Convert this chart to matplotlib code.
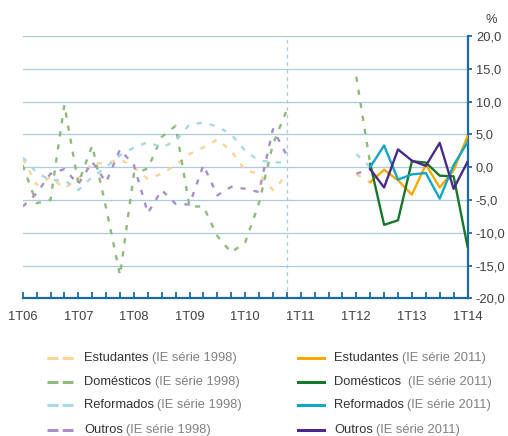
import matplotlib
matplotlib.use("Agg")
import matplotlib.pyplot as plt
import numpy as np
from matplotlib.lines import Line2D

plt.rcParams['font.family'] = ['Liberation Sans', 'DejaVu Sans']

nan = np.nan

# quarters 1T06 .. 1T14
quarters = [f"{q}T{y:02d}" for y in range(6, 14) for q in range(1, 5)] + ["1T14"]

# IE serie 1998 (ends 4T10, two more points in 2012)
est_98 = [1.3, -2.7, -1.5, -3.2, -1.8, 0.6, 0.6, 1.2, 0.0, -1.8, -1.0, 0.3, 2.0, 3.0, 4.2, 2.5,
          -0.5, -1.0, -3.5, -1.2, nan, nan, nan, nan, -1.1, -2.3]
dom_98 = [0.3, -5.5, -5.0, 9.5, -2.5, 3.3, -6.2, -16.5, -1.0, -0.2, 4.6, 6.3, -6.0, -6.0, -10.5, -13.0,
          -11.5, -5.5, 3.5, 8.7, nan, nan, nan, nan, 13.8, 0.5]
ref_98 = [1.5, -0.8, -2.0, -2.0, -3.5, -1.5, 0.0, 1.8, 3.0, 3.8, 3.0, 4.0, 6.5, 6.8, 6.2, 5.0,
          2.5, 1.0, 0.8, 0.6, nan, nan, nan, nan, 2.0, 0.0]
out_98 = [-6.0, -4.0, -1.0, -0.3, -2.6, 0.8, -2.3, 2.7, 0.3, -7.0, -3.5, -5.6, -5.7, 0.3, -4.3, -3.0,
          -3.3, -3.8, 5.8, 1.8, nan, nan, nan, nan, -1.0, -0.3]

# IE serie 2011 (2T12 .. 1T14)
est_11 = [-2.3, -0.4, -2.0, -4.2, 0.4, -3.1, -0.5, 4.7]
dom_11 = [0.5, -8.8, -8.1, 0.9, 0.7, -1.3, -1.4, -12.1]
ref_11 = [0.0, 3.3, -1.9, -1.1, -0.9, -4.8, 0.3, 3.8]
out_11 = [-0.3, -3.1, 2.7, 1.0, 0.2, 3.7, -3.3, 0.8]

names = ["Estudantes", "Domésticos", "Reformados", "Outros"]
names_11 = ["Estudantes", "Domésticos ", "Reformados", "Outros"]
cols_98 = ["#fdd495", "#8fba7e", "#a6d9e6", "#a98fca"]
cols_11 = ["#f6aa00", "#18762a", "#10a6c6", "#4a2a88"]

yticks = [20, 15, 10, 5, 0, -5, -10, -15, -20]
ytick_labels = ["20,0", "15,0", "10,0", "5,0", "0,0", "-5,0", "-10,0", "-15,0", "-20,0"]

axis_col = "#1b6aa5"
grid_col = "#a9cce3"
txt_col = "#404040"
fs = 9.3

fig = plt.figure(figsize=(5.08, 4.36), dpi=100)
ax = fig.add_axes([22.7 / 508, 1 - 298.3 / 436, (467.5 - 22.7) / 508, (298.3 - 36) / 436])

for v in yticks:
    ax.axhline(v, color=grid_col, lw=0.9, zorder=0)
ax.axvline(19, color=grid_col, lw=0.9, ls=(0, (3, 3)), zorder=0)

x98 = np.arange(len(est_98))
x11 = np.arange(25, 25 + len(est_11))
for s, c in zip([est_98, dom_98, ref_98, out_98], cols_98):
    ax.plot(x98, s, color=c, lw=1.7, dashes=(2.2, 3.4), zorder=2)
for s, c in zip([est_11, dom_11, ref_11, out_11], cols_11):
    ax.plot(x11, s, color=c, lw=1.7, zorder=3)

ax.set_xlim(0, 32)
ax.set_ylim(-20, 20)
ax.set_xticks(range(len(quarters)))
ax.set_xticklabels([q if i % 4 == 0 else "" for i, q in enumerate(quarters)])
ax.yaxis.tick_right()
ax.set_yticks(yticks)
ax.set_yticklabels(ytick_labels)

for sp in ["left", "top"]:
    ax.spines[sp].set_visible(False)
for sp in ["bottom", "right"]:
    ax.spines[sp].set_color(axis_col)
    ax.spines[sp].set_linewidth(1.6)
ax.tick_params(axis="x", direction="in", length=4, width=1.3, color=axis_col,
               labelsize=fs, labelcolor=txt_col, pad=9)
ax.tick_params(axis="y", direction="out", length=3, width=1.3, color=axis_col,
               labelsize=fs, labelcolor=txt_col, pad=3)
ax.set_facecolor("none")

fig.text(491.7 / 508, 1 - 20 / 436, "%", ha="center", va="center", fontsize=fs, color=txt_col)

# legend, drawn by hand so the series suffix can be lighter grey
rows_y = [358, 381.5, 405, 429.5]
for k in range(4):
    fy = 1 - rows_y[k] / 436
    fig.add_artist(Line2D([46.7 / 508, 72.7 / 508], [fy, fy], transform=fig.transFigure,
                          color=cols_98[k], lw=2.2, dashes=(3.6, 1.4)))
    t = fig.text(84 / 508, fy, names[k], ha="left", va="center", fontsize=fs, color="#333333")
    ax.annotate("(IE série 1998)", xy=(1, 0.5), xycoords=t, xytext=(2.5, 0),
                textcoords="offset points", ha="left", va="center", fontsize=fs, color="#808080")
    fig.add_artist(Line2D([298 / 508, 324 / 508], [fy, fy], transform=fig.transFigure,
                          color=cols_11[k], lw=2.2))
    t = fig.text(334 / 508, fy, names_11[k], ha="left", va="center", fontsize=fs, color="#333333")
    ax.annotate("(IE série 2011)", xy=(1, 0.5), xycoords=t, xytext=(2.5, 0),
                textcoords="offset points", ha="left", va="center", fontsize=fs, color="#808080")

fig.savefig("out.png", dpi=100)
